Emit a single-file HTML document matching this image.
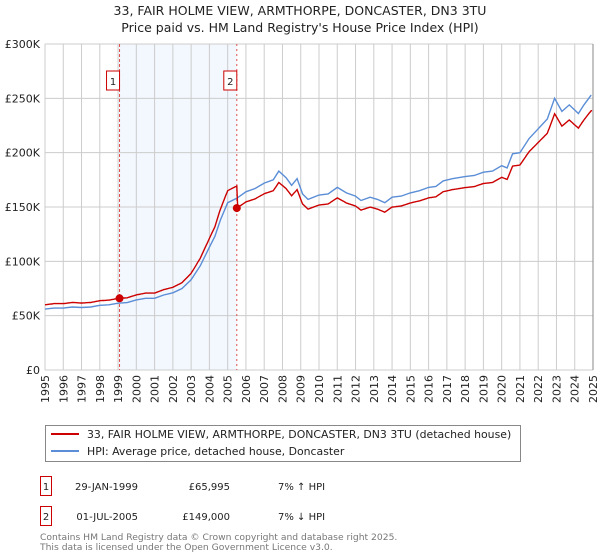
<!DOCTYPE html>
<html><head><meta charset="utf-8"><style>
body{margin:0;background:#fff;font-family:"DejaVu Sans","Liberation Sans",sans-serif}
svg{display:block}
</style></head><body>
<svg width="600" height="560" xmlns="http://www.w3.org/2000/svg" font-family="DejaVu Sans, Liberation Sans, sans-serif">
<text x="300" y="15" text-anchor="middle" font-size="12.5" fill="#222">33, FAIR HOLME VIEW, ARMTHORPE, DONCASTER, DN3 3TU</text>
<text x="300" y="32" text-anchor="middle" font-size="12.5" fill="#222">Price paid vs. HM Land Registry's House Price Index (HPI)</text>
<g id="plot"></g>
<g>
<rect x="45.5" y="425.5" width="475" height="36" fill="#fff" stroke="#888"/>
<line x1="51" y1="434" x2="79" y2="434" stroke="#cc0000" stroke-width="2"/>
<text x="87" y="438" font-size="10.9" fill="#222">33, FAIR HOLME VIEW, ARMTHORPE, DONCASTER, DN3 3TU (detached house)</text>
<line x1="51" y1="451" x2="79" y2="451" stroke="#5b8ed6" stroke-width="2"/>
<text x="87" y="455" font-size="10.9" fill="#222">HPI: Average price, detached house, Doncaster</text>
</g>
<g font-size="10" fill="#222">
<rect x="40.5" y="476.5" width="11" height="19" fill="#fff" stroke="#cc0000"/>
<text x="46" y="490" text-anchor="middle">1</text>
<text x="138" y="490" text-anchor="end">29-JAN-1999</text>
<text x="230" y="490" text-anchor="end">£65,995</text>
<text x="278" y="490">7% ↑ HPI</text>
<rect x="40.5" y="506.5" width="11" height="19" fill="#fff" stroke="#cc0000"/>
<text x="46" y="520" text-anchor="middle">2</text>
<text x="138" y="520" text-anchor="end">01-JUL-2005</text>
<text x="230" y="520" text-anchor="end">£149,000</text>
<text x="278" y="520">7% ↓ HPI</text>
</g>
<text x="40" y="540" font-size="9.2" fill="#777">Contains HM Land Registry data © Crown copyright and database right 2025.</text>
<text x="40" y="550" font-size="9.2" fill="#777">This data is licensed under the Open Government Licence v3.0.</text>
</svg>
<script>
const hpiYears=[1995,1995.5,1996,1996.5,1997,1997.5,1998,1998.5,1999,1999.5,2000,2000.5,2001,2001.5,2002,2002.5,2003,2003.5,2004,2004.3,2004.6,2005,2005.5,2006,2006.5,2007,2007.5,2007.8,2008.2,2008.5,2008.8,2009.1,2009.4,2010,2010.5,2011,2011.5,2012,2012.3,2012.8,2013.2,2013.6,2014,2014.5,2015,2015.5,2016,2016.4,2016.8,2017.3,2018,2018.5,2019,2019.5,2020,2020.3,2020.6,2021,2021.5,2022,2022.5,2022.9,2023.3,2023.7,2024.2,2024.5,2024.9];
const hpiValues=[56,57,57,58,57.5,58,59.5,60,61.5,62,64.5,66,66,69,71,75,83,96,113,123,138,154,158,164,167,172,175,183,177,170,176,162,157,161,162,168,163,160,156,159,157,154,159,160,163,165,168,169,174,176,178,179,182,183,188,186,199,200,213,222,231,250,238,244,236,244,253];
const saleDates=[1999.08,2005.5];
const salePrices=[65.995,149];
const saleLabels=["1","2"];
const yTicks=[0,50,100,150,200,250,300];
const yTickLabels=["£0","£50K","£100K","£150K","£200K","£250K","£300K"];
const xTicks=[1995,1996,1997,1998,1999,2000,2001,2002,2003,2004,2005,2006,2007,2008,2009,2010,2011,2012,2013,2014,2015,2016,2017,2018,2019,2020,2021,2022,2023,2024,2025];

const NS="http://www.w3.org/2000/svg";
const L=45,R=593,T=44,B=370;
const xs=y=>L+(y-1995)/30*(R-L);
const ys=v=>B-v/300*(B-T);
const g=document.getElementById('plot');
function mk(tag,at,parent){const e=document.createElementNS(NS,tag);for(const k in at)e.setAttribute(k,at[k]);(parent||g).appendChild(e);return e;}
function hpiAt(t){for(let i=0;i<hpiYears.length-1;i++){if(t>=hpiYears[i]&&t<=hpiYears[i+1]){const f=(t-hpiYears[i])/(hpiYears[i+1]-hpiYears[i]);return hpiValues[i]+f*(hpiValues[i+1]-hpiValues[i]);}}return hpiValues[hpiValues.length-1];}

const shade=mk('rect',{x:xs(saleDates[0]),y:T,width:xs(saleDates[1])-xs(saleDates[0]),height:B-T,fill:'#eef3fd',opacity:0.7});


yTicks.forEach((v,i)=>{
 const l=mk('line',{x1:L,x2:R,y1:ys(v),y2:ys(v),stroke:'#ccc','stroke-width':1});
 
 
 const t=mk('text',{x:L-5,y:ys(v)+4,'text-anchor':'end','font-size':11,fill:'#222'});
 t.textContent=yTickLabels[i];
 
 
});
xTicks.forEach(yr=>{
 const l=mk('line',{x1:xs(yr),x2:xs(yr),y1:T,y2:B,stroke:'#ccc','stroke-width':1});
 
 
 const t=mk('text',{x:0,y:0,'text-anchor':'end','font-size':11,fill:'#222',transform:`translate(${xs(yr)+4},${B+5}) rotate(-90)`});
 t.textContent=yr;
 
 
});
const ax=mk('line',{x1:R,x2:R,y1:T,y2:B,stroke:'#888','stroke-width':1});


saleDates.forEach((d,i)=>{
 const l=mk('line',{x1:xs(d),x2:xs(d),y1:T,y2:B,stroke:'#e05050','stroke-width':1,'stroke-dasharray':i==0?'3,2':'2,3'});
 
 
 const r=mk('rect',{x:xs(d)-13,y:71,width:13,height:19,fill:'#fff',stroke:'#cc0000'});
 
 
 const t=mk('text',{x:xs(d)-6.5,y:85,'text-anchor':'middle','font-size':10,fill:'#222'});
 t.textContent=saleLabels[i];
 
 
});
let d='';hpiYears.forEach((y,i)=>{d+=(i?'L':'M')+xs(y).toFixed(1)+','+ys(hpiValues[i]).toFixed(1);});
const hp=mk('path',{d:d,fill:'none',stroke:'#5b8ed6','stroke-width':1.4});


let pd='';const steps=[];
for(let t=1995;t<=2024.95;t+=0.05)steps.push(t);
steps.forEach((t,i)=>{
 let k=0;for(let j=0;j<saleDates.length;j++)if(t>=saleDates[j])k=j;
 const ratio=salePrices[k]/hpiAt(saleDates[k]);
 pd+=(i?'L':'M')+xs(t).toFixed(1)+','+ys(hpiAt(t)*ratio).toFixed(1);
});
const pp=mk('path',{d:pd,fill:'none',stroke:'#cc0000','stroke-width':1.4});


saleDates.forEach((d2,i)=>{
 const c=mk('circle',{cx:xs(d2),cy:ys(salePrices[i]),r:4,fill:'#cc0000'});
 
 
});
</script>
</body></html>
